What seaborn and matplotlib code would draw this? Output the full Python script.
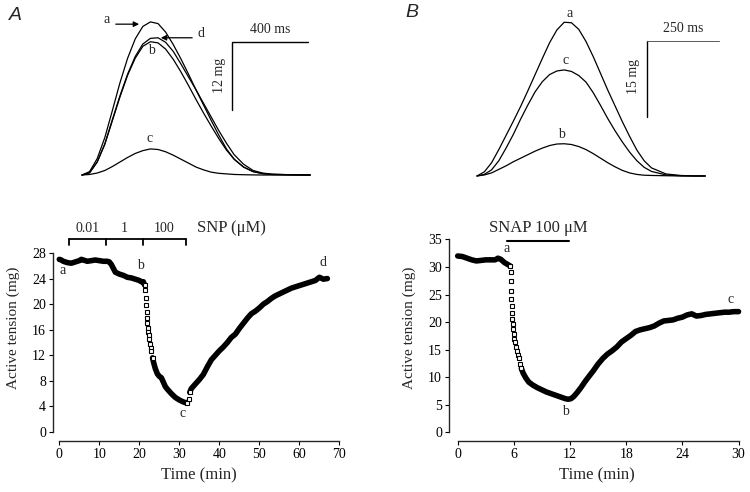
import matplotlib
matplotlib.use("Agg")
import matplotlib.pyplot as plt
import seaborn as sns
import numpy as np

# ---------------- data ----------------
# Panel A twitch traces (time in ms, tension in mg)
twA_t = [0, 40, 80, 120, 160, 200, 240, 280, 320, 360, 400, 440, 480, 520, 560,
         600, 640, 680, 720, 760, 800, 850, 900, 950, 1000, 1100, 1200]
twA_a = [0, 0.6, 2.9, 6.6, 11.4, 16.3, 20.6, 24.0, 26.2, 27.0, 26.7, 25.2, 23.0, 20.5, 17.8,
         15.0, 12.3, 9.6, 7.0, 4.6, 2.8, 1.4, 0.6, 0.25, 0.1, 0.05, 0]
twA_b = [0, 0.4, 2.3, 5.4, 9.6, 13.8, 17.6, 20.6, 22.7, 23.5, 23.3, 22.2, 20.4, 18.2, 15.8,
         13.3, 10.9, 8.6, 6.4, 4.4, 2.8, 1.4, 0.6, 0.25, 0.1, 0.05, 0]
twA_c = [0, 0.1, 0.35, 0.8, 1.5, 2.3, 3.1, 3.8, 4.3, 4.6, 4.5, 4.1, 3.5, 2.8, 2.1,
         1.4, 0.9, 0.5, 0.3, 0.2, 0.1, 0.05, 0.02, 0, 0, 0, 0]
twA_d = [0, 0.4, 2.3, 5.5, 9.8, 14.0, 17.8, 20.9, 23.1, 24.1, 24.2, 23.4, 21.8, 19.6, 17.3,
         15.0, 12.6, 10.2, 7.8, 5.6, 3.6, 1.9, 0.8, 0.35, 0.15, 0.05, 0]

# Panel B twitch traces
twB_t = [0, 25, 50, 75, 100, 125, 150, 175, 200, 225, 250, 275, 300, 325, 350, 375, 400,
         425, 450, 475, 500, 525, 550, 575, 600, 650, 700, 750, 785]
twB_a = [0, 0.8, 2.6, 5.2, 8.0, 10.8, 13.7, 16.8, 20.0, 23.2, 26.3, 28.8, 30.3, 30.2, 28.9,
         26.5, 23.5, 20.2, 16.9, 13.8, 10.7, 7.8, 5.1, 3.0, 1.6, 0.4, 0.1, 0, 0]
twB_b = [0, 0.2, 0.6, 1.3, 2.0, 2.8, 3.5, 4.2, 4.9, 5.5, 6.0, 6.3, 6.35, 6.2, 5.8, 5.2, 4.4,
         3.5, 2.6, 1.8, 1.1, 0.6, 0.3, 0.15, 0.1, 0.05, 0, 0, 0]
twB_c = [0, 0.3, 1.2, 3.0, 5.5, 8.2, 11.2, 14.0, 16.6, 18.6, 20.0, 20.7, 20.9, 20.6, 19.8,
         18.5, 16.4, 13.9, 11.3, 8.9, 6.7, 4.7, 3.0, 1.7, 0.9, 0.2, 0.05, 0, 0]

# Panel A time course (SNP)
snp_t = [0, 0.5, 1, 1.5, 2, 3, 4, 5, 5.5, 6, 7, 8, 9, 10, 11, 12, 12.5, 13, 13.5, 14, 15, 16,
         17, 18, 19, 20, 20.5, 21, 21.3, 21.5, 21.6, 21.7, 21.8, 21.9, 22.0, 22.1, 22.2, 22.3,
         22.4, 22.6, 22.8, 23.0, 23.3, 23.6, 24.0, 24.5, 25, 25.5, 26, 26.5, 27, 28, 29, 30,
         31, 31.5, 32, 32.3, 32.6, 33, 34, 35, 36, 37, 38, 39, 40, 41, 42, 43, 44, 45, 46, 47,
         48, 49, 50, 51, 52, 53, 54, 55, 56, 57, 58, 59, 60, 61, 62, 63, 64, 65, 66, 67]
snp_v = [27.0, 26.9, 26.7, 26.6, 26.5, 26.4, 26.6, 26.8, 27.0, 26.9, 26.7, 26.8, 26.9, 26.8,
         26.7, 26.7, 26.6, 26.2, 25.6, 25.0, 24.7, 24.5, 24.2, 24.1, 23.9, 23.7, 23.5, 23.5,
         23.0, 22.2, 21.0, 19.8, 18.8, 17.9, 17.0, 16.3, 15.7, 15.1, 14.6, 13.8, 13.1, 12.6,
         11.6, 10.8, 9.9, 9.1, 8.7, 8.5, 7.8, 7.1, 6.7, 6.0, 5.4, 5.0, 4.7, 4.6, 4.6, 5.2, 6.2,
         6.8, 7.5, 8.2, 9.0, 10.2, 11.3, 12.0, 12.7, 13.3, 14.0, 14.8, 15.3, 16.2, 17.0, 17.8,
         18.5, 18.9, 19.4, 20.0, 20.4, 20.9, 21.3, 21.6, 21.9, 22.2, 22.5, 22.7, 22.9, 23.1,
         23.3, 23.5, 23.7, 24.2, 23.9, 24.0]

# Panel B time course (SNAP)
snap_t = [0, 0.5, 1, 1.5, 2, 2.5, 3, 3.5, 4, 4.3, 4.6, 5, 5.3, 5.6, 5.65, 5.68, 5.7, 5.72,
          5.75, 5.8, 5.85, 5.9, 5.95, 6.0, 6.05, 6.1, 6.2, 6.3, 6.4, 6.5, 6.65, 6.8, 7.0, 7.3,
          7.6, 8.0, 8.5, 9, 9.5, 10, 10.5, 11, 11.5, 11.8, 12.1, 12.4, 12.8, 13.2, 13.6, 14,
          14.5, 15, 15.5, 16, 16.5, 17, 17.5, 18, 18.5, 19, 19.5, 20, 20.5, 21, 21.5, 22, 22.5,
          23, 23.5, 24, 24.5, 25, 25.5, 26, 26.5, 27, 27.5, 28, 28.5, 29, 29.5, 30]
snap_v = [32.0, 31.9, 31.6, 31.3, 31.1, 31.2, 31.3, 31.3, 31.3, 31.6, 31.4, 30.8, 30.5, 30.2,
          29.1, 27.4, 25.7, 24.2, 22.9, 21.7, 20.6, 19.6, 18.7, 17.8, 17.0, 16.3, 15.5, 14.8,
          14.1, 13.4, 12.4, 11.6, 10.7, 9.8, 9.1, 8.6, 8.1, 7.7, 7.3, 7.0, 6.7, 6.4, 6.1, 6.0,
          6.1, 6.5, 7.3, 8.2, 9.2, 10.1, 11.2, 12.4, 13.4, 14.2, 14.8, 15.5, 16.4, 17.0, 17.6,
          18.3, 18.6, 18.8, 19.0, 19.3, 19.8, 20.2, 20.3, 20.4, 20.7, 20.9, 21.3, 21.5, 21.1,
          21.2, 21.4, 21.5, 21.6, 21.7, 21.8, 21.8, 21.9, 21.9]

snp_ticks_y = [0, 4, 8, 12, 16, 20, 24, 28]
snp_ticks_x = [0, 10, 20, 30, 40, 50, 60, 70]
snap_ticks_y = [0, 5, 10, 15, 20, 25, 30, 35]
snap_ticks_x = [0, 6, 12, 18, 24, 30]
snp_conc = ["0.01", "1", "100"]
snp_edges = [2.5, 11.7, 21.0, 31.6]

# ---------------- style ----------------
sns.set_theme(style="ticks")
plt.rcParams["font.family"] = ["Liberation Serif", "DejaVu Serif"]
plt.rcParams["axes.linewidth"] = 1.0
plt.rcParams["xtick.major.size"] = 3
plt.rcParams["ytick.major.size"] = 3
plt.rcParams["xtick.major.pad"] = 2
plt.rcParams["ytick.major.pad"] = 2

fig = plt.figure(figsize=(7.5, 4.92), dpi=100)
W, H = 750.0, 492.0


def px_axes(x0, y0, x1, y1):
    return fig.add_axes([x0 / W, 1 - y1 / H, (x1 - x0) / W, (y1 - y0) / H])


K = "black"
TFS = 10

# ---------- top A ----------
axA = px_axes(60, 5, 330, 185)
for v in (twA_a, twA_b, twA_c, twA_d):
    sns.lineplot(x=twA_t, y=v, ax=axA, color=K, lw=0.9, estimator=None, sort=False)
axA.set_xlim(-115.7, 1304.5)
axA.set_ylim(-1.76, 29.98)
axA.axis("off")
axA.plot([789, 789, 1189], [11.46, 23.46, 23.46], color=K, lw=1.0, solid_joinstyle="miter")
axA.text(989, 25.6, "400 ms", ha="center", va="center", fontsize=TFS)
axA.text(721, 17.5, "12 mg", ha="center", va="center", fontsize=TFS, rotation=90)
axA.annotate("", xy=(315, 26.6), xytext=(163, 26.6),
             arrowprops=dict(arrowstyle="-|>", color=K, lw=0.9, mutation_scale=8))
axA.text(131, 27.4, "a", ha="center", va="center", fontsize=TFS)
axA.annotate("", xy=(400, 24.2), xytext=(594, 24.2),
             arrowprops=dict(arrowstyle="-|>", color=K, lw=0.9, mutation_scale=8))
axA.text(626, 25.0, "d", ha="center", va="center", fontsize=TFS)
axA.text(368, 22.0, "b", ha="center", va="center", fontsize=TFS)
axA.text(358, 6.5, "c", ha="center", va="center", fontsize=TFS)
axA.text(-352, 28.2, "A", ha="center", va="center", fontsize=14, style="italic",
         family="Liberation Sans", clip_on=False)

# ---------- top B ----------
axB = px_axes(460, 5, 740, 185)
for v in (twB_a, twB_b, twB_c):
    sns.lineplot(x=twB_t, y=v, ax=axB, color=K, lw=0.9, estimator=None, sort=False)
axB.set_xlim(-58.5, 904.7)
axB.set_ylim(-1.78, 33.7)
axB.axis("off")
axB.plot([584, 584], [11.7, 26.7], color=K, lw=1.0)
axB.plot([584, 834], [26.7, 26.7], color="0.35", lw=0.7)
axB.text(709, 29.0, "250 ms", ha="center", va="center", fontsize=TFS)
axB.text(540, 19.7, "15 mg", ha="center", va="center", fontsize=TFS, rotation=90)
axB.text(320, 32.1, "a", ha="center", va="center", fontsize=TFS)
axB.text(306, 22.7, "c", ha="center", va="center", fontsize=TFS)
axB.text(292, 8.1, "b", ha="center", va="center", fontsize=TFS)
axB.text(-224, 32.2, "B", ha="center", va="center", fontsize=14, style="italic",
         family="Liberation Sans", clip_on=False)

# ---------- time-course helper ----------
mk = dict(marker="s", markersize=3.2, markerfacecolor="white", markeredgecolor=K,
          markeredgewidth=0.8, linestyle="none")


def draw_course(ax, t, v, band_ranges, square_ranges):
    t = np.asarray(t, float)
    v = np.asarray(v, float)
    for lo, hi in band_ranges:
        m = (t >= lo) & (t <= hi)
        sns.lineplot(x=t[m], y=v[m], ax=ax, color=K, lw=4.0, estimator=None, sort=False,
                     solid_capstyle="round", solid_joinstyle="round")
    for lo, hi in square_ranges:
        m = (t >= lo) & (t <= hi)
        ax.plot(t[m], v[m], **mk)


# ---------- bottom A ----------
axC = px_axes(53, 215, 345, 441)
draw_course(axC, snp_t, snp_v, [(0, 21.3), (23.3, 32.0), (32.6, 67)],
            [(21.3, 23.3), (32.0, 32.6)])
axC.set_xlim(-1.575, 71.4)
axC.set_ylim(-1.408, 33.94)
axC.set_xticks(snp_ticks_x)
axC.set_yticks(snp_ticks_y)
axC.set_xticklabels([str(v) for v in snp_ticks_x], fontsize=TFS)
axC.set_yticklabels([str(v) for v in snp_ticks_y], fontsize=TFS)
sns.despine(ax=axC)
axC.spines["left"].set_bounds(0, 28)
axC.spines["bottom"].set_bounds(0, 70)
axC.set_xlabel("Time (min)", fontsize=12, labelpad=5)
axC.set_ylabel("Active tension (mg)", fontsize=11, labelpad=9)
axC.plot([snp_edges[0], snp_edges[-1]], [30.14, 30.14], color=K, lw=1.3, clip_on=False)
for e in snp_edges:
    axC.plot([e, e], [30.14, 29.2], color=K, lw=1.3, clip_on=False)
for i, lab in enumerate(snp_conc):
    axC.text((snp_edges[i] + snp_edges[i + 1]) / 2, 31.9, lab, ha="center", va="center",
             fontsize=TFS)
axC.text(34.4, 31.9, "SNP (\u03bcM)", ha="left", va="center", fontsize=12)
axC.text(0.9, 25.3, "a", ha="center", va="center", fontsize=TFS)
axC.text(20.2, 26.1, "b", ha="center", va="center", fontsize=TFS)
axC.text(30.8, 2.9, "c", ha="center", va="center", fontsize=TFS)
axC.text(65.8, 26.5, "d", ha="center", va="center", fontsize=TFS)

# ---------- bottom B ----------
axD = px_axes(449, 215, 745, 441)
draw_course(axD, snap_t, snap_v, [(0, 5.6), (6.8, 30)], [(5.6, 6.8)])
axD.set_xlim(-0.93, 30.69)
axD.set_ylim(-1.58, 39.44)
axD.set_xticks(snap_ticks_x)
axD.set_yticks(snap_ticks_y)
axD.set_xticklabels([str(v) for v in snap_ticks_x], fontsize=TFS)
axD.set_yticklabels([str(v) for v in snap_ticks_y], fontsize=TFS)
sns.despine(ax=axD)
axD.spines["left"].set_bounds(0, 35)
axD.spines["bottom"].set_bounds(0, 30)
axD.set_xlabel("Time (min)", fontsize=12, labelpad=5)
axD.set_ylabel("Active tension (mg)", fontsize=11, labelpad=9)
axD.plot([5.3, 11.9], [34.8, 34.8], color=K, lw=1.5, clip_on=False)
axD.text(8.6, 37.0, "SNAP 100 \u03bcM", ha="center", va="center", fontsize=12)
axD.text(5.27, 33.3, "a", ha="center", va="center", fontsize=TFS)
axD.text(11.46, 3.7, "b", ha="center", va="center", fontsize=TFS)
axD.text(29.1, 24.1, "c", ha="center", va="center", fontsize=TFS)

for ax in (axC, axD):
    ax.tick_params(axis="both", colors=K, width=0.8, length=3)
    if ax.get_legend() is not None:
        ax.get_legend().remove()

fig.savefig("out.png", dpi=100, facecolor="white")
